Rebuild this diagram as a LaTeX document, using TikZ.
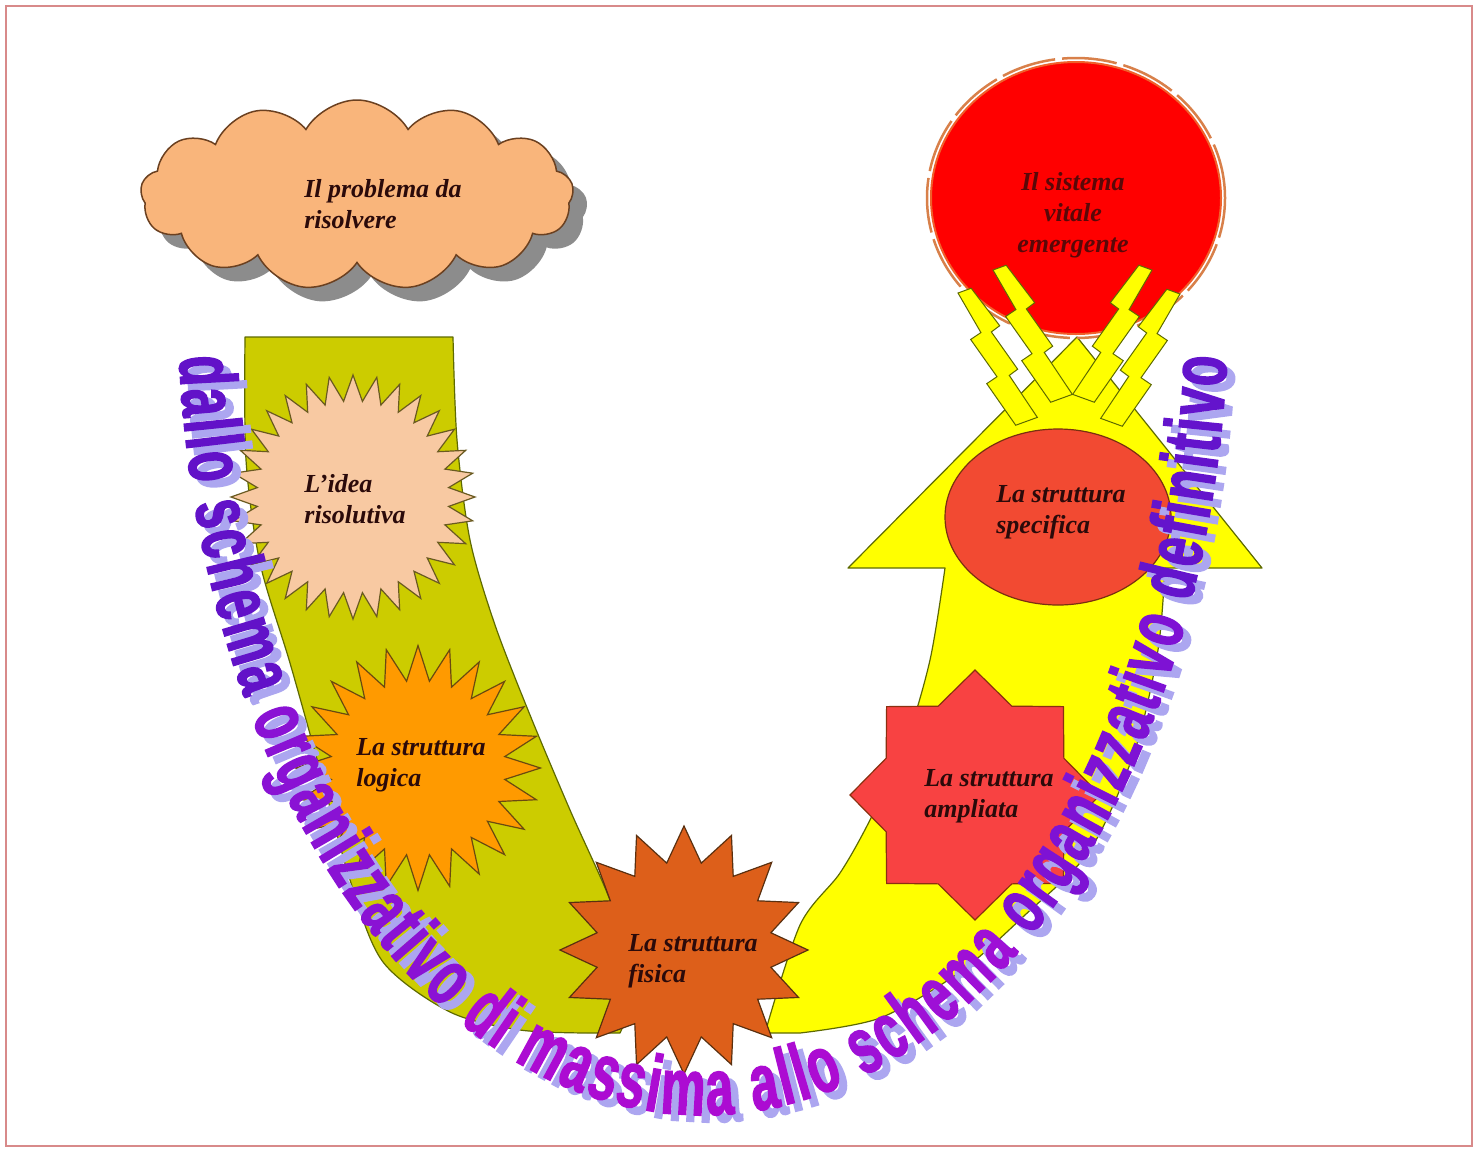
\documentclass[tikz,border=0pt]{standalone}
\usepackage{fontspec}
\setmainfont{Liberation Serif}
\newfontfamily\wafamily{Liberation Sans}[UprightFont=* Bold, FakeStretch=0.62, FakeBold=1.8]
\newcommand\wafnt{\wafamily\fontsize{8.0}{8.0}\selectfont}
\usetikzlibrary{shapes.geometric,shapes.symbols,decorations.text}
\definecolor{framecol}{HTML}{D88A8A}
\definecolor{olivefill}{HTML}{CCCC00}
\definecolor{yelfill}{HTML}{FFFF00}
\definecolor{bandline}{HTML}{5E6A00}
\definecolor{cloudfill}{HTML}{F9B57B}
\definecolor{cloudline}{HTML}{6B4020}
\definecolor{cloudsh}{HTML}{8C8C8C}
\definecolor{ideafill}{HTML}{F8C9A2}
\definecolor{idealine}{HTML}{6A5A20}
\definecolor{logfill}{HTML}{FF9A00}
\definecolor{logline}{HTML}{6A4A10}
\definecolor{fisfill}{HTML}{DD5F1A}
\definecolor{fisline}{HTML}{5A3010}
\definecolor{ampfill}{HTML}{F84242}
\definecolor{ampline}{HTML}{8A3010}
\definecolor{specfill}{HTML}{F24A32}
\definecolor{specline}{HTML}{7A3010}
\definecolor{sysfill}{HTML}{FF0000}
\definecolor{sysrim}{HTML}{F0602A}
\definecolor{sysring}{HTML}{D8804A}
\definecolor{txtcol}{HTML}{2B0A0A}
\definecolor{systxt}{HTML}{5A0808}
\definecolor{wcA}{HTML}{6212C8}
\definecolor{wcB}{HTML}{8A12D4}
\definecolor{wcC}{HTML}{AC0CD2}
\definecolor{wcD}{HTML}{9E10D6}
\definecolor{wcE}{HTML}{7E12D4}
\definecolor{wcF}{HTML}{6414CC}
\definecolor{wshadow}{HTML}{ACA6F0}
\begin{document}
\begin{tikzpicture}[x=1pt,y=-1pt,
  band/.style={draw=bandline, line width=1.2pt, line join=round},
  lbl/.style={font=\bfseries\itshape\fontsize{26}{31}\selectfont, text=txtcol, align=left, inner sep=0pt},
  boltshape/.style={fill=yelfill, draw=bandline, line width=1pt, line join=miter},
  starbase/.style={star, inner sep=0pt, line width=1.2pt}
]
\useasboundingbox (0,0) rectangle (1478,1152);
\fill[white] (0,0) rectangle (1478,1152);
\draw[framecol, line width=1.5pt] (6,6) rectangle (1472,1146);

% yellow up arrow band
\path[band, fill=yelfill] (765,1033) -- plot[smooth] coordinates {(765,1033) (800,925) (840,873) (870,820) (905,745) (930,660) (945,568)}
  -- (848,568) -- (1077,337) -- (1262,568)
  -- plot[smooth] coordinates {(1165,568) (1158,650) (1135,750) (1090,850) (1025,915) (960,972) (880,1018) (800,1033)} -- cycle;

% olive band
\path[band, fill=olivefill] (245,337) -- (453,337)
  -- plot[smooth] coordinates {(453,337) (457,440) (470,540) (495,625) (530,715) (570,810) (610,900) (640,990)}
  -- (620,1033)
  -- plot[smooth] coordinates {(590,1033) (520,1030) (450,1012) (383,962) (350,880) (320,770) (290,663) (260,563) (246,460) (245,337)} -- cycle;

% cloud
\node[cloud, cloud puffs=13, cloud puff arc=120, aspect=2.2, minimum width=433pt, minimum height=190pt, inner sep=0pt, fill=cloudsh] (cloudshadow) at (371,209) {};
\node[cloud, cloud puffs=13, cloud puff arc=120, aspect=2.2, minimum width=433pt, minimum height=190pt, inner sep=0pt, fill=cloudfill, draw=cloudline, line width=1.5pt] (cloud) at (357,195) {};

% system circle
\node[ellipse, minimum width=290pt, minimum height=272pt, fill=sysfill, draw=sysrim, line width=2pt] (sys) at (1076,198) {};
\node[ellipse, minimum width=298pt, minimum height=280pt, draw=sysring, line width=2.5pt, dash pattern=on 55pt off 7pt] (sysring) at (1076,198) {};

% lightning bolts
\foreach \bx/\by/\br/\bs in {958/293/20/1, 993/270/20/1, 1152/270/-20/-1, 1180/294/-20/-1}{
  \begin{scope}[shift={(\bx,\by)}, rotate=\br, xscale=\bs]
    \path[boltshape] (0,0) -- (8,45) -- (-4,48) -- (8,92) -- (-4,95) -- (9,144)
      -- (32,144) -- (20,95) -- (30,92) -- (18,48) -- (28,45) -- (14,0) -- cycle;
  \end{scope}
}

% specific ellipse
\node[ellipse, minimum width=226pt, minimum height=176pt, fill=specfill, draw=specline, line width=1.2pt] (spec) at (1058,517) {};

% stars
\node[starbase, star points=32, star point ratio=1.27, minimum size=244pt, fill=ideafill, draw=idealine] (idea) at (353,497) {};
\node[starbase, star points=24, star point ratio=1.4, minimum size=245pt, fill=logfill, draw=logline] (logica) at (418,768) {};
\node[starbase, star points=8, star point ratio=1.3, minimum size=250pt, fill=ampfill, draw=ampline] (ampl) at (975,795) {};
\node[starbase, star points=16, star point ratio=1.4, minimum size=248pt, fill=fisfill, draw=fisline] (fisica) at (684,950) {};

% labels
\node[lbl] (tcloud) at (383,204) {Il problema da\\risolvere};
\node[lbl] (tidea) at (355,499) {L'idea\\risolutiva};
\node[lbl] (tlog) at (421,765) {La struttura\\logica};
\node[lbl] (tfis) at (693,961) {La struttura\\fisica};
\node[lbl] (tamp) at (989,796) {La struttura\\ampliata};
\node[lbl] (tspec) at (1061,512) {La struttura\\specifica};
\node[lbl, align=center, text=systxt] (tsys) at (1073,215) {Il sistema\\vitale\\emergente};

% curved WordArt text (drawn at 1/10 scale, magnified by canvas transform)
\begin{scope}[transform canvas={scale=10}, x=0.1pt, y=-0.1pt]
\path[decorate, decoration={text along path, text align=fit to path,
  text={|\wafnt\color{wshadow}|dallo schema organizzativo di massima allo schema organizzativo definitivo}}]
  plot[samples=121, domain=176:4, variable=\t] ({711+525*cos(\t)},{307+815*sin(\t)});
\path[decorate, decoration={text along path, text align=fit to path,
  text={|\wafnt\color{wcA}|dallo schema |\wafnt\color{wcB}|organizzativo |\wafnt\color{wcC}|di massima allo |\wafnt\color{wcD}|schema |\wafnt\color{wcE}|organizzativo |\wafnt\color{wcF}|definitivo}}]
  plot[samples=121, domain=176:4, variable=\t] ({703+525*cos(\t)},{300+815*sin(\t)});
\end{scope}
\end{tikzpicture}
\end{document}
